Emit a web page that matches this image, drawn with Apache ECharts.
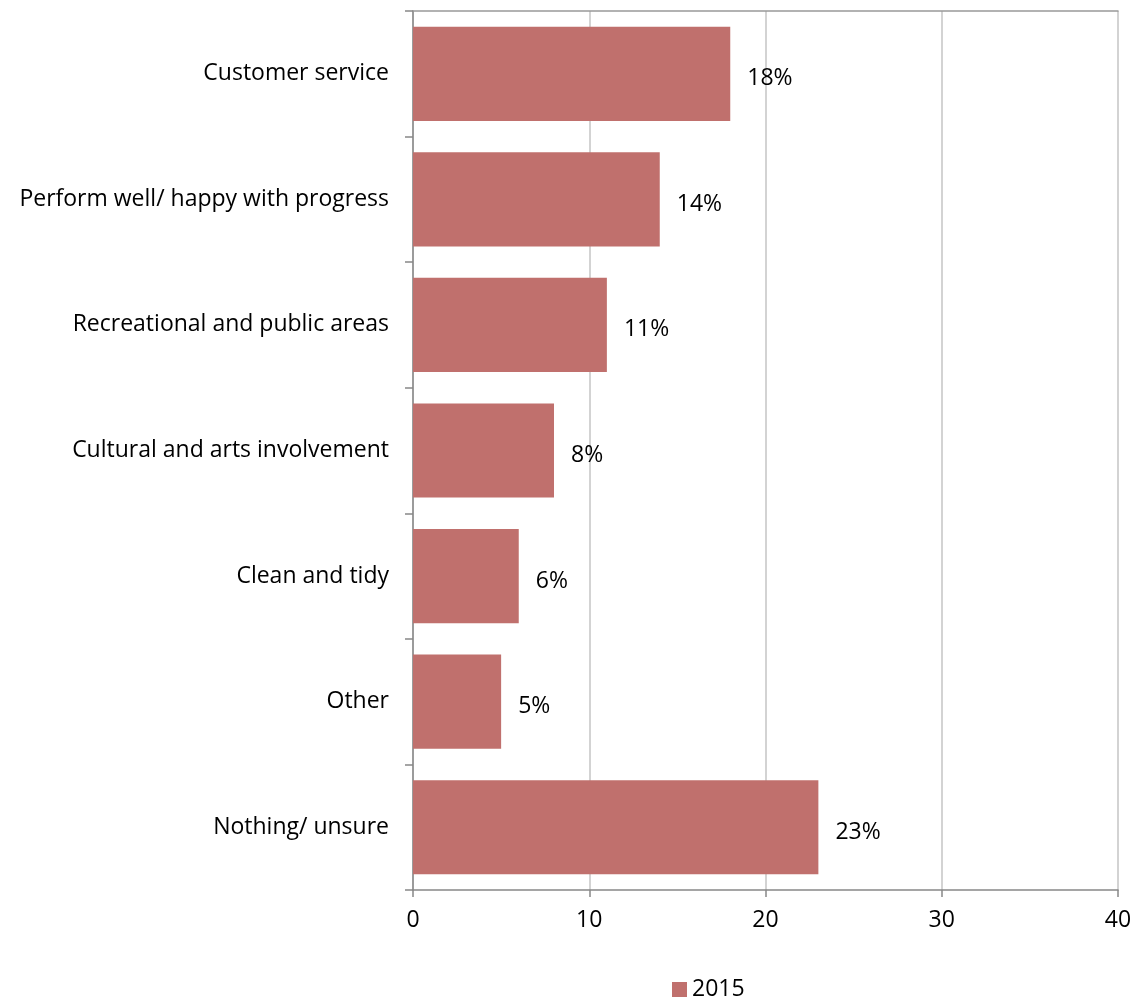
<!DOCTYPE html>
<html>
<head>
<meta charset="utf-8">
<script src="https://cdn.jsdelivr.net/npm/echarts@6/dist/echarts.min.js"></script>
<style>
  html, body { margin: 0; padding: 0; background: #fff; }
  #chart { width: 1137px; height: 999px; }
</style>
</head>
<body>
<div id="chart"></div>
<script>
// Reasons given, listed top to bottom
const categories = [
  'Customer service',
  'Perform well/ happy with progress',
  'Recreational and public areas',
  'Cultural and arts involvement',
  'Clean and tidy',
  'Other',
  'Nothing/ unsure'
];
const values2015 = [18, 14, 11, 8, 6, 5, 23];
const xTicks = [0, 10, 20, 30, 40];

const FONT = '"Open Sans", "Noto Sans", sans-serif';
const FS = 23;
const chart = echarts.init(document.getElementById('chart'), null, { renderer: 'canvas' });

chart.setOption({
  animation: false,
  backgroundColor: '#ffffff',
  textStyle: { fontFamily: FONT },
  grid: { left: 413, right: 19, top: 11, bottom: 109, containLabel: false },
  legend: {
    data: ['2015'],
    left: 667,
    top: 973,
    itemWidth: 15,
    itemHeight: 15,
    itemGap: 8,
    icon: 'rect',
    textStyle: { fontSize: FS, color: '#000', fontFamily: FONT }
  },
  xAxis: [{
    type: 'value',
    min: xTicks[0],
    max: xTicks[xTicks.length - 1],
    interval: 10,
    position: 'bottom',
    axisLine: { show: true, lineStyle: { color: '#888', width: 1.5 } },
    axisTick: { show: true, length: 7, lineStyle: { color: '#888', width: 1.5 } },
    axisLabel: { fontSize: FS, color: '#000', margin: 19, fontFamily: FONT },
    splitLine: { show: true, lineStyle: { color: '#c4c4c4', width: 1.5 } }
  }, {
    type: 'value',
    min: xTicks[0],
    max: xTicks[xTicks.length - 1],
    position: 'top',
    axisLine: { show: true, lineStyle: { color: '#999', width: 1.5 } },
    axisTick: { show: false },
    axisLabel: { show: false },
    splitLine: { show: false }
  }],
  yAxis: {
    type: 'category',
    data: categories,
    inverse: true,
    axisLine: { show: true, lineStyle: { color: '#888', width: 1.5 } },
    axisTick: { show: true, length: 8, lineStyle: { color: '#888', width: 1.5 } },
    axisLabel: { fontSize: FS, color: '#000', margin: 24, padding: [10, 0, 0, 0], fontFamily: FONT },
    splitLine: { show: false }
  },
  series: [{
    name: '2015',
    type: 'bar',
    data: values2015,
    barCategoryGap: '25%',
    itemStyle: { color: '#c0706d' },
    label: {
      show: true,
      position: 'right',
      distance: 17,
      offset: [0, 5],
      formatter: p => p.value + '%',
      fontSize: FS,
      color: '#000',
      fontFamily: FONT
    }
  }]
});
</script>
</body>
</html>
